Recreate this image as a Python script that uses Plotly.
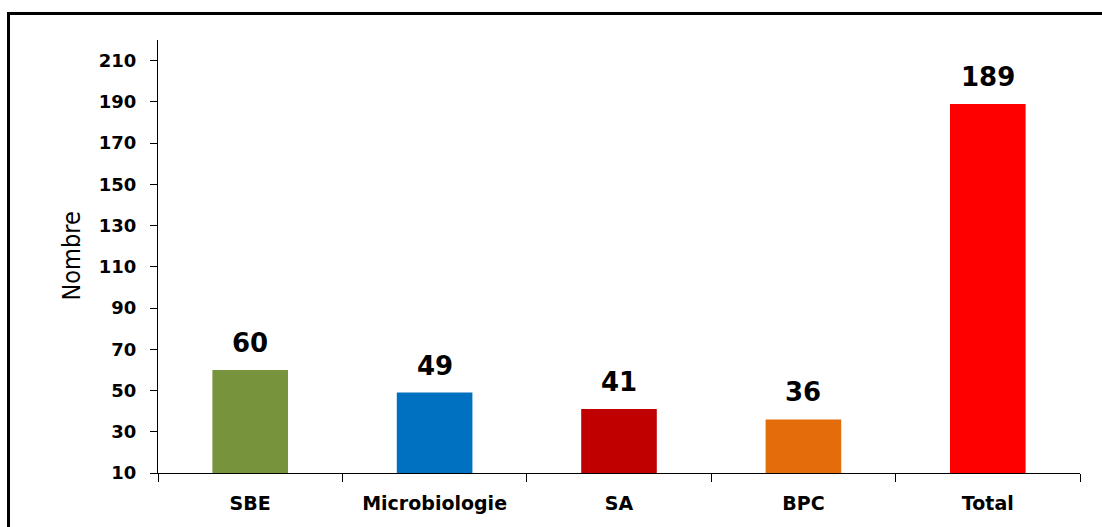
import plotly.graph_objects as go

categories = ["SBE", "Microbiologie", "SA", "BPC", "Total"]
values = [60, 49, 41, 36, 189]
colors = ["#77933C", "#0070C0", "#C00000", "#E46C0A", "#FF0000"]
y_ticks = [10, 30, 50, 70, 90, 110, 130, 150, 170, 190, 210]

fig = go.Figure()
fig.add_trace(go.Bar(
    x=categories, y=[v - 10 for v in values], base=10,
    marker=dict(color=colors, line=dict(width=0)),
    width=0.41, showlegend=False, hoverinfo="skip",
))

for c, v in zip(categories, values):
    fig.add_annotation(x=c, y=v, text=f"<b>{v}</b>", showarrow=False,
                       yanchor="bottom", yshift=10,
                       font=dict(family="DejaVu Sans", size=26, color="#000"))

fig.add_annotation(xref="paper", yref="paper", x=(71 - 158) / 922, y=0.5,
                   text="Nombre", textangle=-90, showarrow=False,
                   xanchor="center", yanchor="middle",
                   font=dict(family="DejaVu Sans Condensed", size=25, color="#000"))

fig.add_shape(type="rect", xref="paper", yref="paper",
              x0=(8.5 - 158) / 922, x1=1.1, y0=-0.3, y1=(473 - 13.5) / 433,
              line=dict(color="#000", width=3), fillcolor="rgba(0,0,0,0)")

fig.update_layout(
    width=1102, height=527,
    margin=dict(l=158, r=22, t=40, b=54),
    paper_bgcolor="white", plot_bgcolor="white",
    bargap=0.59,
    font=dict(family="DejaVu Sans", color="#000"),
    xaxis=dict(
        automargin=False,
        showline=True, linecolor="#000", linewidth=1,
        ticks="outside", tickson="boundaries", ticklen=8, tickcolor="#000",
        tickfont=dict(family="DejaVu Sans", size=19, color="#000", weight="bold"),
        ticklabelstandoff=13,
        showgrid=False,
    ),
    yaxis=dict(
        automargin=False,
        range=[10, 220], tickvals=y_ticks,
        showline=True, linecolor="#000", linewidth=1,
        ticks="outside", ticklen=7, tickcolor="#000",
        tickfont=dict(family="DejaVu Sans", size=18, color="#000", weight="bold"),
        ticklabelstandoff=10,
        showgrid=False, zeroline=False,
    ),
)

fig.write_html("out.html", config={"displayModeBar": False},
               post_script="document.body.style.margin='0';document.body.style.overflow='hidden';")
